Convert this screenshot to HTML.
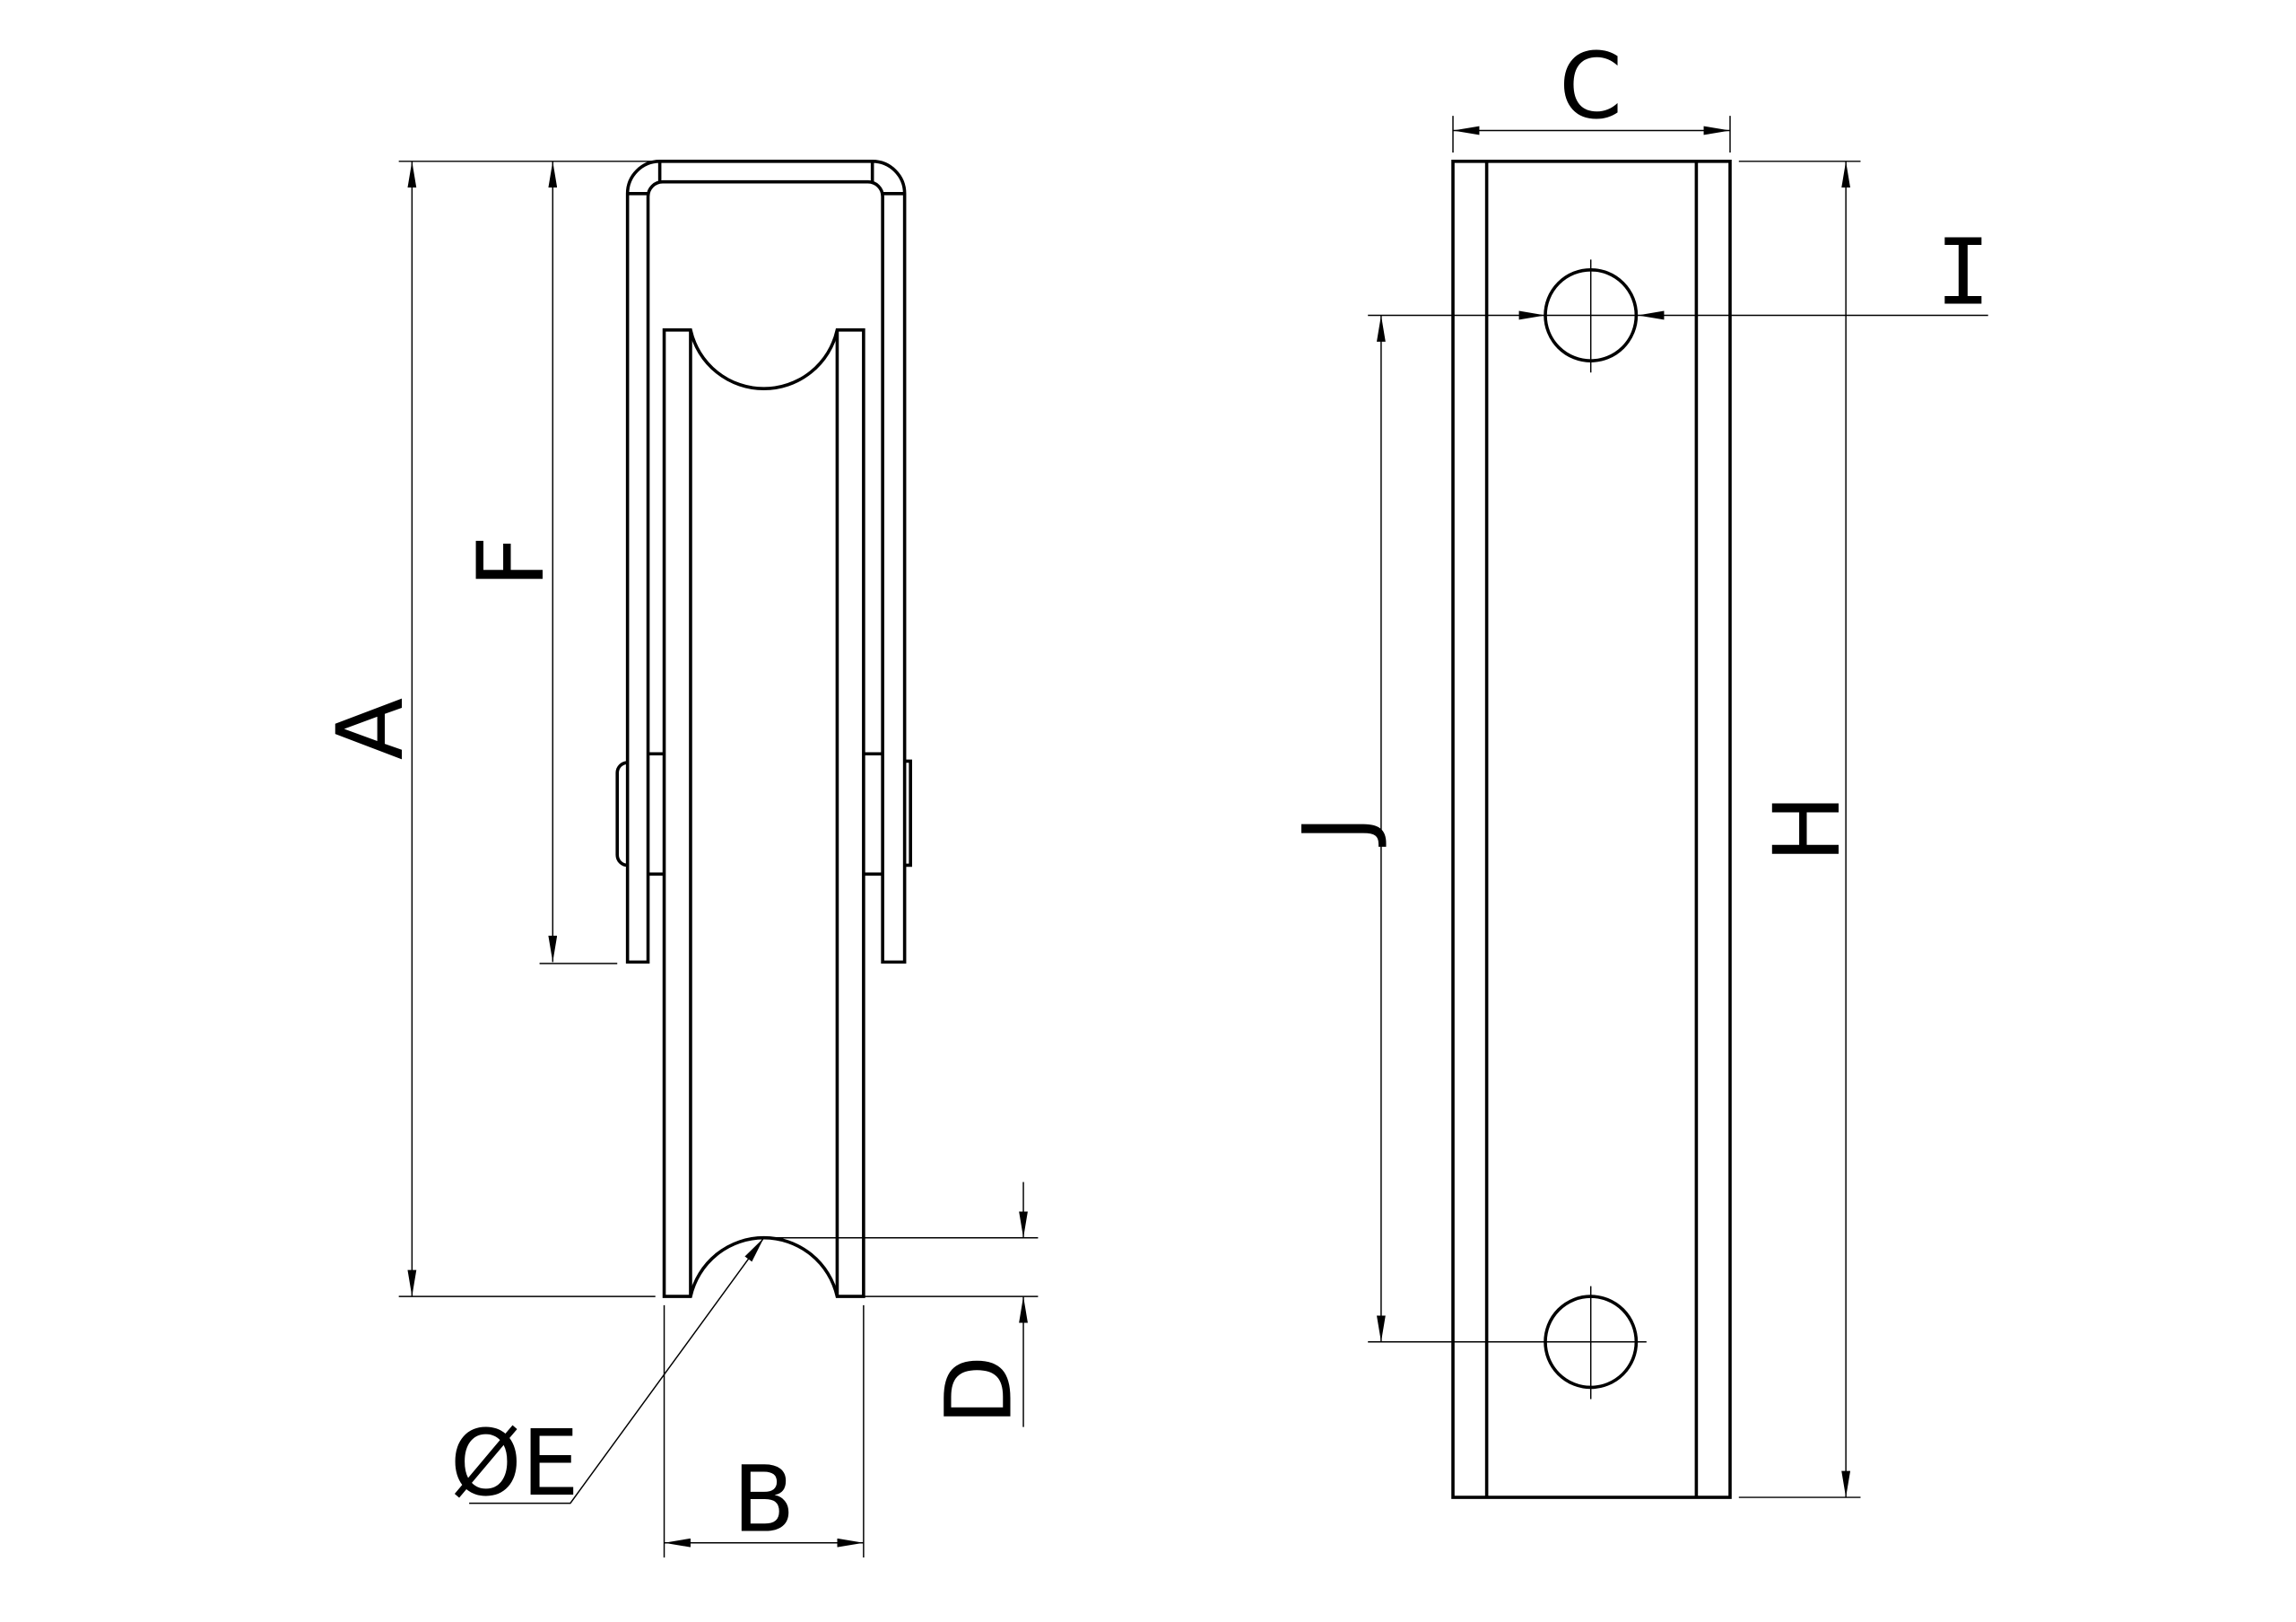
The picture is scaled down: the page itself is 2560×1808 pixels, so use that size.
<!DOCTYPE html>
<html><head><meta charset="utf-8"><style>
html,body{margin:0;padding:0;background:#fff}
svg{display:block}
text{font-family:"DejaVu Sans","Liberation Sans",sans-serif;font-size:62px;fill:#000}
</style></head><body>
<svg width="2560" height="1808" viewBox="0 0 1566 1106" preserveAspectRatio="none" xmlns="http://www.w3.org/2000/svg">
<defs>
<marker id="ar" viewBox="0 0 18 6" refX="18" refY="3" markerWidth="18" markerHeight="6" markerUnits="userSpaceOnUse" orient="auto-start-reverse"><path d="M0,0 L18,3 L0,6 Z" fill="#000"/></marker>
</defs>
<g fill="none" stroke="#000" stroke-width="2.2">
<!-- bracket -->
<path d="M428,656 V132 A22,22 0 0 1 450,110 H595 A22,22 0 0 1 617,132 V656 H602 V134 A10,10 0 0 0 592,124 H452 A10,10 0 0 0 442,134 V656 Z"/>
<line x1="450" y1="110" x2="450" y2="124"/>
<line x1="595" y1="110" x2="595" y2="124"/>
<line x1="428" y1="132" x2="442" y2="132"/>
<line x1="602" y1="132" x2="617" y2="132"/>
<!-- hubs -->
<line x1="442" y1="514" x2="453" y2="514"/>
<line x1="442" y1="596" x2="453" y2="596"/>
<line x1="589" y1="514" x2="602" y2="514"/>
<line x1="589" y1="596" x2="602" y2="596"/>
<path d="M428,520 A7,7 0 0 0 421,527 V583 A7,7 0 0 0 428,590"/>
<path d="M617,519 H621 V590 H617"/>
<!-- pulley -->
<path d="M453,884 V225 H471 A51.25,51.25 0 0 0 571,225 H589 V884 H571 A51.25,51.25 0 0 0 471,884 Z"/>
<line x1="471" y1="225" x2="471" y2="884"/>
<line x1="571" y1="225" x2="571" y2="884"/>
<!-- right view -->
<rect x="991" y="110" width="189" height="911"/>
<line x1="1014" y1="110" x2="1014" y2="1021"/>
<line x1="1157" y1="110" x2="1157" y2="1021"/>
<circle cx="1085" cy="215" r="31"/>
<circle cx="1085" cy="915" r="31"/>
</g>
<g fill="none" stroke="#000" stroke-width="0.9">
<!-- A -->
<line x1="272" y1="110" x2="445" y2="110"/>
<line x1="272" y1="884" x2="447" y2="884"/>
<line x1="281" y1="110" x2="281" y2="884" marker-start="url(#ar)" marker-end="url(#ar)"/>
<!-- F -->
<line x1="377" y1="110" x2="377" y2="656" marker-start="url(#ar)" marker-end="url(#ar)"/>
<line x1="368" y1="657" x2="421" y2="657"/>
<!-- D -->
<line x1="521" y1="844" x2="708" y2="844"/>
<line x1="589" y1="884" x2="708" y2="884"/>
<line x1="698" y1="806" x2="698" y2="844" marker-end="url(#ar)"/>
<line x1="698" y1="973" x2="698" y2="884" marker-end="url(#ar)"/>
<!-- B -->
<line x1="453" y1="890" x2="453" y2="1062"/>
<line x1="589" y1="890" x2="589" y2="1062"/>
<line x1="453" y1="1052" x2="589" y2="1052" marker-start="url(#ar)" marker-end="url(#ar)"/>
<!-- E -->
<polyline points="320,1025 389,1025 521,844" marker-end="url(#ar)"/>
<!-- C -->
<line x1="991" y1="79" x2="991" y2="104"/>
<line x1="1180" y1="79" x2="1180" y2="104"/>
<line x1="991" y1="89" x2="1180" y2="89" marker-start="url(#ar)" marker-end="url(#ar)"/>
<!-- H -->
<line x1="1186" y1="110" x2="1269" y2="110"/>
<line x1="1186" y1="1021" x2="1269" y2="1021"/>
<line x1="1259" y1="110" x2="1259" y2="1021" marker-start="url(#ar)" marker-end="url(#ar)"/>
<!-- I -->
<line x1="933" y1="215" x2="1054" y2="215" marker-end="url(#ar)"/>
<line x1="1356" y1="215" x2="1117" y2="215" marker-end="url(#ar)"/>
<line x1="1054" y1="215" x2="1117" y2="215"/>
<line x1="1085" y1="177" x2="1085" y2="254"/>
<!-- J -->
<line x1="933" y1="915" x2="1123" y2="915"/>
<line x1="1085" y1="877" x2="1085" y2="954"/>
<line x1="942" y1="215" x2="942" y2="915" marker-start="url(#ar)" marker-end="url(#ar)"/>
</g>
<text x="274" y="497" text-anchor="middle" transform="rotate(-90 274 497)">A</text>
<text x="370" y="383" text-anchor="middle" transform="rotate(-90 370 383)">F</text>
<text x="689" y="948" text-anchor="middle" transform="rotate(-90 689 948)">D</text>
<text x="933" y="565" text-anchor="middle" transform="rotate(-90 933 565)">J</text>
<text x="1254" y="565" text-anchor="middle" transform="rotate(-90 1254 565)">H</text>
<text x="521" y="1044" text-anchor="middle">B</text>
<text x="351" y="1019" text-anchor="middle">ØE</text>
<text x="1085" y="80" text-anchor="middle">C</text>
<text x="1339" y="207" text-anchor="middle" style="font-family:'DejaVu Sans Mono','Liberation Mono',monospace">I</text>
</svg>
</body></html>
